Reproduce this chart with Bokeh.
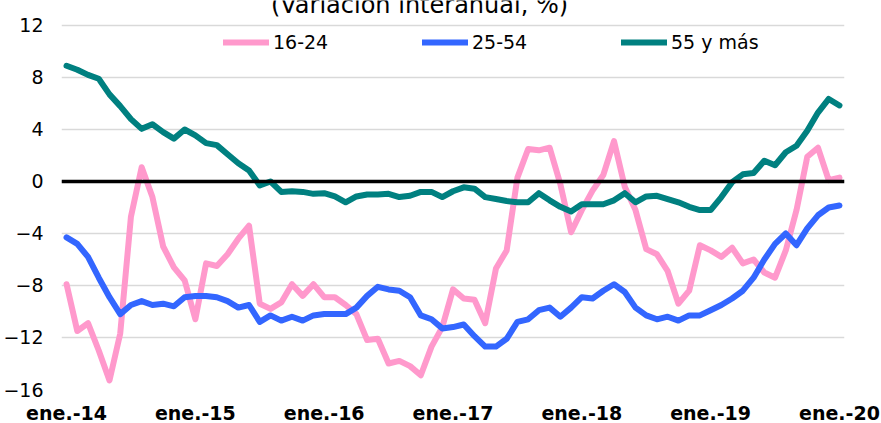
from bokeh.plotting import figure
from bokeh.models import Range1d, FixedTicker, Span, Legend, LegendItem, Label, ColumnDataSource
from bokeh.embed import file_html
from bokeh.resources import INLINE

# Monthly series, ene.-14 .. ene.-20 (year-on-year change, %)
s_16_24 = [-7.9, -11.5, -10.9, -13.0, -15.3, -11.7, -2.7, 1.1, -1.2, -5.0, -6.6, -7.6,
           -10.6, -6.3, -6.5, -5.6, -4.4, -3.4, -9.4, -9.8, -9.3, -7.9, -8.8, -7.9,
           -8.9, -8.9, -9.5, -10.2, -12.2, -12.1, -14.0, -13.8, -14.2, -14.9, -12.7, -11.2,
           -8.3, -9.0, -9.1, -10.9, -6.7, -5.3, 0.3, 2.5, 2.4, 2.6, -0.2, -3.9,
           -2.2, -0.7, 0.5, 3.1, -0.4, -2.2, -5.2, -5.6, -6.9, -9.4, -8.4, -4.9,
           -5.3, -5.8, -5.1, -6.3, -6.0, -7.0, -7.4, -5.3, -2.2, 1.9, 2.6, 0.1, 0.3]
s_25_54 = [-4.3, -4.8, -5.8, -7.4, -8.9, -10.2, -9.5, -9.2, -9.5, -9.4, -9.6, -8.9,
           -8.8, -8.8, -8.9, -9.2, -9.7, -9.5, -10.8, -10.3, -10.7, -10.4, -10.7, -10.3,
           -10.2, -10.2, -10.2, -9.7, -8.8, -8.1, -8.3, -8.4, -8.9, -10.3, -10.6, -11.3,
           -11.2, -11.0, -11.9, -12.7, -12.7, -12.1, -10.8, -10.6, -9.9, -9.7, -10.4, -9.7,
           -8.9, -9.0, -8.4, -7.9, -8.5, -9.7, -10.3, -10.6, -10.4, -10.7, -10.3, -10.3,
           -9.9, -9.5, -9.0, -8.4, -7.4, -6.0, -4.8, -4.0, -4.9, -3.6, -2.6, -2.0, -1.85]
s_55_mas = [8.9, 8.6, 8.2, 7.9, 6.7, 5.8, 4.8, 4.05, 4.4, 3.8, 3.3, 4.0,
            3.55, 2.95, 2.8, 2.1, 1.4, 0.85, -0.3, 0.0, -0.8, -0.75, -0.8, -0.95,
            -0.9, -1.15, -1.6, -1.15, -1.0, -1.0, -0.95, -1.2, -1.1, -0.8, -0.8, -1.2,
            -0.75, -0.45, -0.55, -1.2, -1.35, -1.5, -1.6, -1.6, -0.9, -1.45, -1.95, -2.3,
            -1.75, -1.75, -1.75, -1.45, -0.9, -1.6, -1.15, -1.1, -1.35, -1.6, -1.95, -2.2,
            -2.2, -1.2, -0.05, 0.55, 0.65, 1.6, 1.25, 2.25, 2.75, 3.9, 5.3, 6.35, 5.85]

series_names = ["16-24", "25-54", "55 y más"]
series_colors = ["#FF99CC", "#3366FF", "#008080"]

x_tick_pos = [0, 12, 24, 36, 48, 60, 72]
x_tick_labels = ["ene.-14", "ene.-15", "ene.-16", "ene.-17", "ene.-18", "ene.-19", "ene.-20"]
y_ticks = [-16, -12, -8, -4, 0, 4, 8, 12]
title_text = "(Variación interanual, %)"

FONT = "DejaVu Sans"

# frame reaches the top of the canvas so the (cut-off) title can be drawn inside it
p = figure(frame_width=783, frame_height=389, output_backend="svg", toolbar_location=None,
           x_range=Range1d(-0.47, 72.47), y_range=Range1d(-16, 13.923),
           min_border_left=60, min_border_right=38, min_border_top=0, min_border_bottom=34)
p.outline_line_color = None
p.background_fill_color = "white"
p.border_fill_color = "white"

# grid
p.xgrid.grid_line_color = None
p.ygrid.grid_line_color = "#D9D9D9"
p.ygrid.grid_line_width = 1.5
p.ygrid.ticker = FixedTicker(ticks=y_ticks)

# axes
p.yaxis.ticker = FixedTicker(ticks=y_ticks)
p.yaxis.axis_line_color = None
p.yaxis.major_tick_line_color = None
p.yaxis.minor_tick_line_color = None
p.yaxis.major_tick_out = 0
p.yaxis.major_tick_in = 0
p.yaxis.minor_tick_out = 0
p.yaxis.major_label_text_font = FONT
p.yaxis.major_label_text_font_size = "19px"
p.yaxis.major_label_text_color = "#000000"
p.yaxis.major_label_standoff = 18

p.xaxis.ticker = FixedTicker(ticks=x_tick_pos)
p.xaxis.major_label_overrides = {t: l for t, l in zip(x_tick_pos, x_tick_labels)}
p.xaxis.axis_line_color = None
p.xaxis.major_tick_line_color = None
p.xaxis.minor_tick_line_color = None
p.xaxis.major_tick_out = 0
p.xaxis.major_tick_in = 0
p.xaxis.minor_tick_out = 0
p.xaxis.major_label_text_font = FONT
p.xaxis.major_label_text_font_size = "19px"
p.xaxis.major_label_text_font_style = "bold"
p.xaxis.major_label_text_color = "#000000"
p.xaxis.major_label_standoff = 12

# zero line
p.add_layout(Span(location=0, dimension="width", line_color="black", line_width=3.5))

renderers = []
for name, col, ys in zip(series_names, series_colors, [s_16_24, s_25_54, s_55_mas]):
    src = ColumnDataSource(dict(x=list(range(len(ys))), y=ys))
    r = p.line("x", "y", source=src, line_color=col, line_width=6,
               line_join="round", line_cap="round")
    renderers.append(r)

legend = Legend(items=[LegendItem(label=n, renderers=[r]) for n, r in zip(series_names, renderers)],
                orientation="horizontal", location=(162, 336),
                glyph_width=46, glyph_height=20, label_height=20, label_width=149,
                label_standoff=4, spacing=0, padding=0, margin=0,
                border_line_color=None, background_fill_alpha=0,
                label_text_font=FONT, label_text_font_size="19px", label_text_color="#000000")
p.add_layout(legend)

p.add_layout(Label(x=32.88, y=13.54, text=title_text, text_align="center",
                   text_baseline="alphabetic", text_font=FONT, text_font_size="24px",
                   text_color="#000000"))

open("out.html", "w").write(file_html(p, INLINE))
